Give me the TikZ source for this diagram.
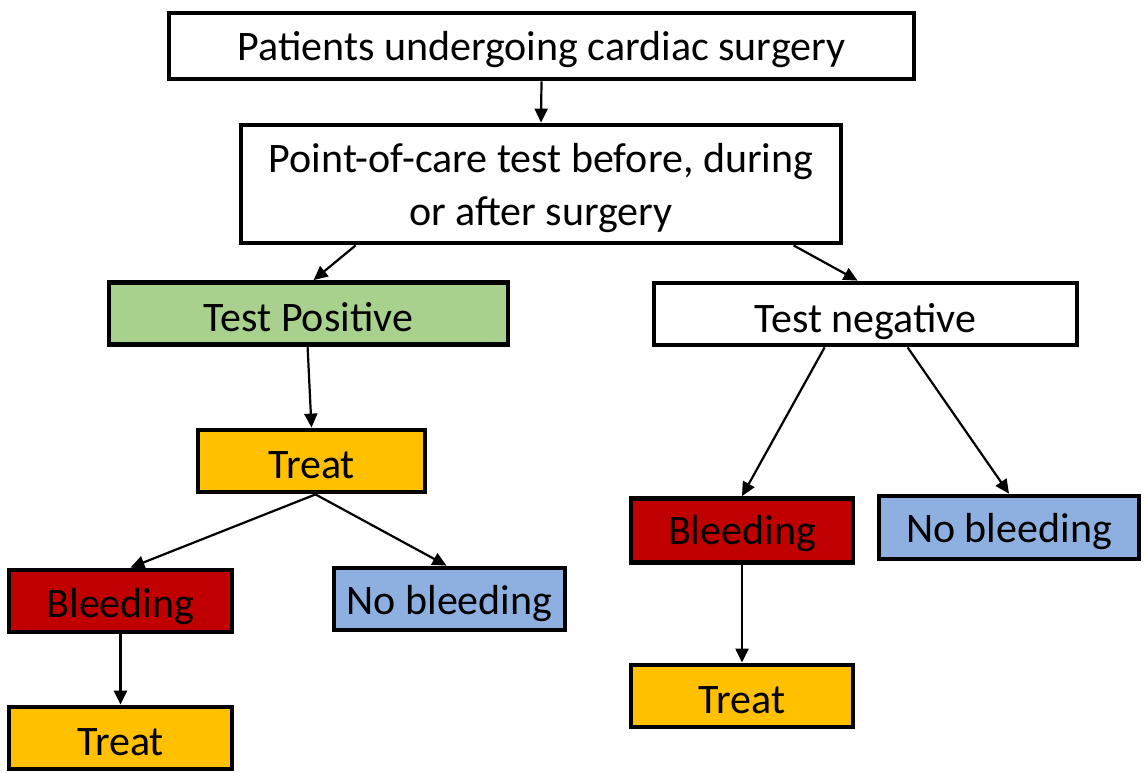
\documentclass[tikz,border=0pt]{standalone}
\usepackage{fontspec}
\setmainfont{Carlito}
\usetikzlibrary{arrows.meta,calc}
\definecolor{cgreen}{HTML}{A9D18E}
\definecolor{corange}{HTML}{FFC000}
\definecolor{cred}{HTML}{C00000}
\definecolor{cblue}{HTML}{8EB0E0}
\begin{document}
\begin{tikzpicture}[x=1pt,y=-1pt,
  box/.style={draw=black,line width=4.8pt,rectangle,inner sep=0pt,align=center,
    font=\fontsize{42}{53}\selectfont},
  bo/.style={text height=#1,text depth=0pt},
  arr/.style={draw=black,line width=2.2pt,-{Triangle[length=14pt,width=13pt]}}]
\path[use as bounding box,fill=white] (0,0) rectangle (1144,774);
\node[box,bo=28pt,fill=white,minimum width=745pt,minimum height=66pt] (p1) at (541.5,46) {Patients undergoing cardiac surgery};
\node[box,fill=white,minimum width=600pt,minimum height=118pt] (p2) at (541,184) {\rule{0pt}{38pt}Point-of-care test before, during\\or after surgery};
\node[box,bo=36pt,fill=cgreen,minimum width=399pt,minimum height=62pt] (pos) at (308.5,313.5) {Test Positive};
\node[box,bo=36pt,fill=white,minimum width=423pt,minimum height=62pt] (neg) at (865.5,314) {Test negative};
\node[box,bo=34pt,fill=corange,minimum width=227pt,minimum height=62pt] (tr1) at (311.5,461) {Treat};
\node[box,bo=32pt,fill=cred,minimum width=223pt,minimum height=62pt] (bl1) at (120.5,601) {Bleeding};
\node[box,bo=30pt,fill=cblue,minimum width=231pt,minimum height=62pt] (nb1) at (449.5,599) {No bleeding};
\node[box,bo=34pt,fill=corange,minimum width=223pt,minimum height=62pt] (tr2) at (120.5,738) {Treat};
\node[box,bo=28pt,fill=cred,minimum width=222pt,minimum height=64pt] (bl2) at (742,530.5) {Bleeding};
\node[box,bo=30pt,fill=cblue,minimum width=260pt,minimum height=63pt] (nb2) at (1009,527.5) {No bleeding};
\node[box,bo=34pt,fill=corange,minimum width=222pt,minimum height=62pt] (tr3) at (742,696) {Treat};
\draw[arr] (p1.south) -- (p2.north);
\draw[arr] ($(p2.south west)+(117,0)$) -- ($(pos.north west)+(207,0)$);
\draw[arr] ($(p2.south west)+(555,0)$) -- ($(neg.north west)+(206,0)$);
\draw[arr] ($(pos.south west)+(201,0)$) -- (tr1.north);
\draw[arr] ($(tr1.south)+(4,0)$) -- ($(bl1.north)+(10,0)$);
\draw[arr] ($(tr1.south)+(4,0)$) -- ($(nb1.north)+(-3,0)$);
\draw[arr] ($(neg.south west)+(173,0)$) -- (bl2.north);
\draw[arr] ($(neg.south west)+(256,0)$) -- (nb2.north);
\draw[arr] (bl1.south) -- (tr2.north);
\draw[arr] (bl2.south) -- (tr3.north);
\end{tikzpicture}
\end{document}
